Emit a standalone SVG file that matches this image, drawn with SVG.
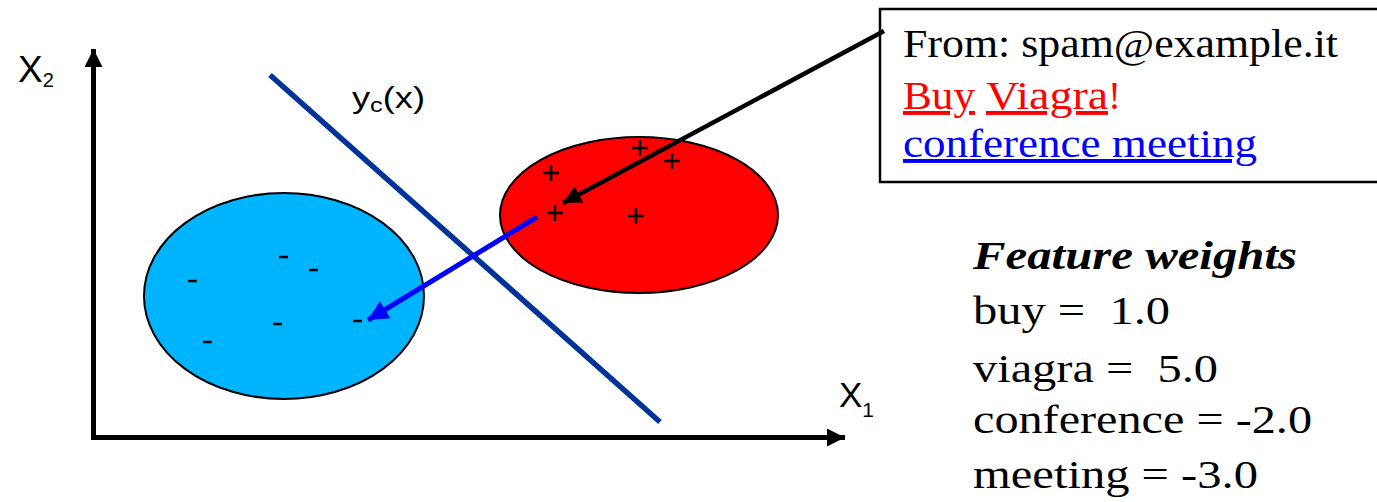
<svg xmlns="http://www.w3.org/2000/svg" width="1377" height="502" viewBox="0 0 1377 502">
<style>
.ax{font-family:"Liberation Sans",Arial,sans-serif;fill:#000}
.sr{font-family:"Liberation Serif","Times New Roman",serif;font-size:39px;white-space:pre}
.pm{stroke:#000;stroke-width:2.5;fill:none}
</style>
<defs>
<marker id="ahBlack" viewBox="0 0 10 10" refX="10" refY="5" markerWidth="22" markerHeight="18" markerUnits="userSpaceOnUse" orient="auto"><path d="M0,0 L10,5 L0,10 z" fill="#000"/></marker>
<marker id="ahBlue" viewBox="0 0 10 10" refX="10" refY="5" markerWidth="24" markerHeight="20" markerUnits="userSpaceOnUse" orient="auto"><path d="M0,0 L10,5 L0,10 z" fill="#0000ff"/></marker>
<marker id="ahAxis" viewBox="0 0 10 10" refX="10" refY="5" markerWidth="18" markerHeight="18" markerUnits="userSpaceOnUse" orient="auto"><path d="M0,0 L10,5 L0,10 z" fill="#000"/></marker>
</defs>
<rect width="1377" height="502" fill="#fff"/>
<g id="axes">
<line x1="93.5" y1="440" x2="93.5" y2="49" stroke="#000" stroke-width="5" marker-end="url(#ahAxis)"/>
<line x1="91" y1="437.5" x2="845" y2="437.5" stroke="#000" stroke-width="5" marker-end="url(#ahAxis)"/>
<text class="ax" x="18" y="82" font-size="37">X<tspan font-size="20" dy="5">2</tspan></text>
<text class="ax" x="839" y="407" font-size="35">X<tspan font-size="21" dy="10">1</tspan></text>
</g>
<g id="separator">
<line x1="270" y1="75" x2="660" y2="422" stroke="#003399" stroke-width="5.5"/>
<text class="ax" x="352" y="108" font-size="30" textLength="73" lengthAdjust="spacingAndGlyphs">y<tspan font-size="21" dy="4">c</tspan><tspan dy="-4">(x)</tspan></text>
</g>
<g id="spam-cluster">
<ellipse cx="639" cy="215" rx="139" ry="78" fill="#ff0000" stroke="#000" stroke-width="2"/>
<path class="pm" d="M543,173 h16 M551,165 v16 M632,148 h16 M640,140 v16 M664,161 h16 M672,153 v16 M547,213 h16 M555,205 v16 M628,216 h16 M636,208 v16"/>
</g>
<g id="ham-cluster">
<ellipse cx="284" cy="296" rx="140" ry="103" fill="#00b4ff" stroke="#000" stroke-width="2"/>
<path class="pm" d="M188,281 h9 M279,257 h9 M309,270 h9 M273,324 h9 M203,342 h9 M353,321 h9"/>
</g>
<g id="email">
<rect x="880" y="9" width="510" height="173" fill="#fff" stroke="#000" stroke-width="2.5"/>
<text class="sr" x="903" y="57" fill="#000" textLength="435" lengthAdjust="spacingAndGlyphs">From: spam@example.it</text>
<text class="sr" x="903" y="109" fill="#ff0000"><tspan text-decoration="underline" textLength="72" lengthAdjust="spacingAndGlyphs">Buy</tspan><tspan> </tspan><tspan x="986" text-decoration="underline" textLength="122" lengthAdjust="spacingAndGlyphs">Viagra</tspan><tspan>!</tspan></text>
<text class="sr" x="903" y="157" fill="#0000ff" text-decoration="underline" textLength="354" lengthAdjust="spacingAndGlyphs">conference meeting</text>
</g>
<g id="weights">
<text class="sr" x="973" y="269" fill="#000" font-weight="bold" font-style="italic" textLength="324" lengthAdjust="spacingAndGlyphs">Feature weights</text>
<text class="sr" x="973" y="324" fill="#000" textLength="197" lengthAdjust="spacingAndGlyphs">buy =  1.0</text>
<text class="sr" x="973" y="382" fill="#000" textLength="245" lengthAdjust="spacingAndGlyphs">viagra =  5.0</text>
<text class="sr" x="973" y="433" fill="#000" textLength="339" lengthAdjust="spacingAndGlyphs">conference = -2.0</text>
<text class="sr" x="973" y="488" fill="#000" textLength="285" lengthAdjust="spacingAndGlyphs">meeting = -3.0</text>
</g>
<g id="connectors">
<line x1="884" y1="31" x2="563" y2="203" stroke="#000" stroke-width="4.5" marker-end="url(#ahBlack)"/>
<line x1="537" y1="217" x2="368" y2="320" stroke="#0000ff" stroke-width="5" marker-end="url(#ahBlue)"/>
</g>
</svg>
